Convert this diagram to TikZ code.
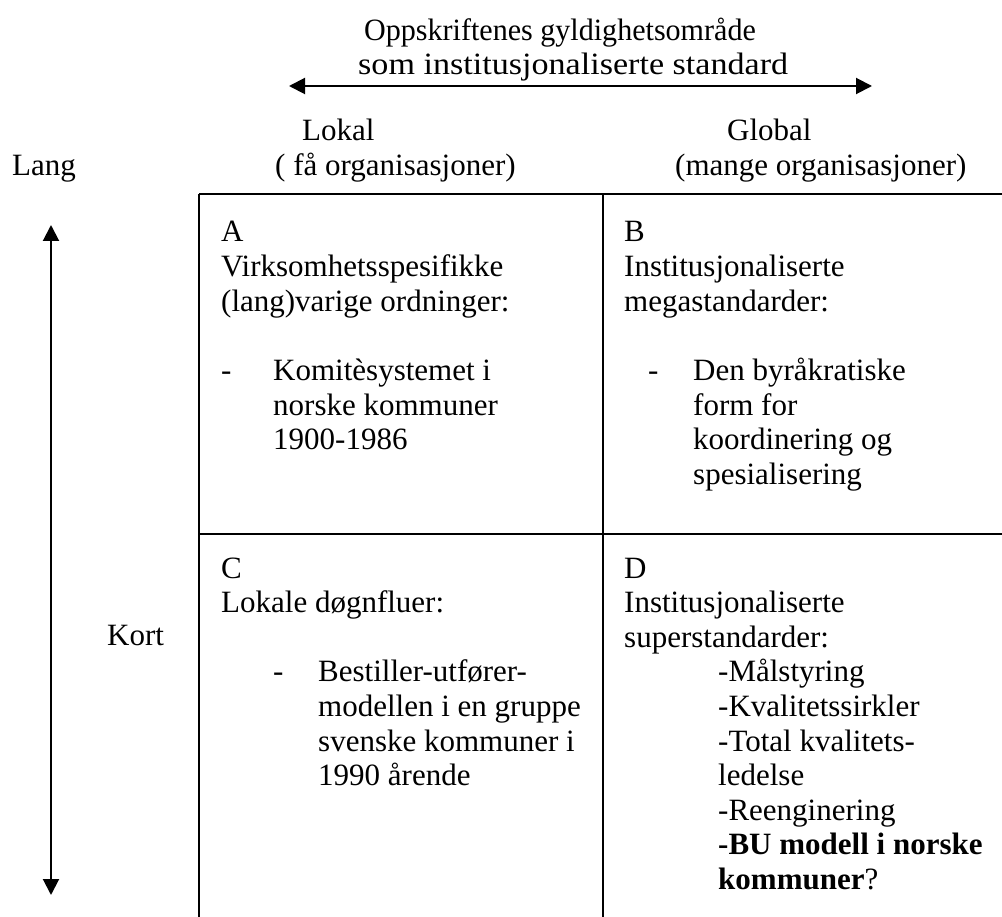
\documentclass[tikz,border=0pt]{standalone}
\usepackage{fontspec}
\setmainfont{Liberation Serif}
\usetikzlibrary{arrows.meta}
\begin{document}
\begin{tikzpicture}[x=1pt,y=-1pt,
  txt/.style={inner sep=0pt, anchor=base west, font=\fontsize{31}{35}\selectfont},
  rule/.style={line width=1.6pt},
  dblarrow/.style={line width=2pt, {Triangle[length=16pt,width=16pt]}-{Triangle[length=16pt,width=16pt]}}]
\useasboundingbox (0,0) rectangle (1002,917);
% header
\node[txt] (h1) at (364,41) {\scalebox{0.97}[1]{Oppskriftenes gyldighetsområde}};
\node[txt] (h2) at (358,75) {\scalebox{1.1}[1]{som institusjonaliserte standard}};
\coordinate (hl) at (289,86);
\coordinate (hr) at (872,86);
\draw[dblarrow] (hl) -- (hr);
\node[txt] (lokal) at (302,141) {Lokal};
\node[txt] (global) at (727,141) {Global};
\node[txt] (fa) at (275,176) {( få organisasjoner)};
\node[txt] (mange) at (675,176) {(mange organisasjoner)};
\node[txt] (lang) at (12,176) {Lang};
\node[txt] (kort) at (107,645) {Kort};
\coordinate (vt) at (51,225);
\coordinate (vb) at (51,895);
\draw[dblarrow] (vt) -- (vb);
% grid
\coordinate (TL) at (199,194);
\coordinate (TM) at (603,194);
\coordinate (TR) at (1002,194);
\coordinate (ML) at (199,534);
\coordinate (MR) at (1002,534);
\coordinate (BL) at (199,917);
\coordinate (BM) at (603,917);
\draw[rule] (TL) -- (TR);
\draw[rule] (ML) -- (MR);
\draw[rule] (TL) -- (BL);
\draw[rule] (TM) -- (BM);
% cell A
\foreach \k/\x/\t [count=\i] in {0/221/A, 1/221/Virksomhetsspesifikke, 2/221/{(lang)varige ordninger:}, 4/221/-, 4/273/{Komitèsystemet i}, 5/273/{norske kommuner}, 6/273/{1900-1986}}
  \node[txt] (a\i) at (\x,{242+34.6*\k}) {\t};
% cell B
\foreach \k/\x/\t [count=\i] in {0/624/B, 1/624/Institusjonaliserte, 2/624/{megastandarder:}, 4/648/-, 4/693/{Den byråkratiske}, 5/693/{form for}, 6/693/{koordinering og}, 7/693/{spesialisering}}
  \node[txt] (b\i) at (\x,{242+34.6*\k}) {\t};
% cell C
\foreach \k/\x/\t [count=\i] in {0/221/C, 1/221/{Lokale døgnfluer:}, 3/273/-, 3/318/{Bestiller-utfører-}, 4/318/{modellen i en gruppe}, 5/318/{svenske kommuner i}, 6/318/{1990 årende}}
  \node[txt] (c\i) at (\x,{578+34.6*\k}) {\t};
% cell D
\foreach \k/\x/\t [count=\i] in {0/624/D, 1/624/Institusjonaliserte, 2/624/{superstandarder:}, 3/718/{-Målstyring}, 4/718/{-Kvalitetssirkler}, 5/718/{-Total kvalitets-}, 6/718/{ledelse}, 7/718/{-Reenginering}, 8/718/{\textbf{-BU modell i norske}}, 9/718/{\textbf{kommuner}?}}
  \node[txt] (d\i) at (\x,{578+34.6*\k}) {\t};
\end{tikzpicture}
\end{document}
